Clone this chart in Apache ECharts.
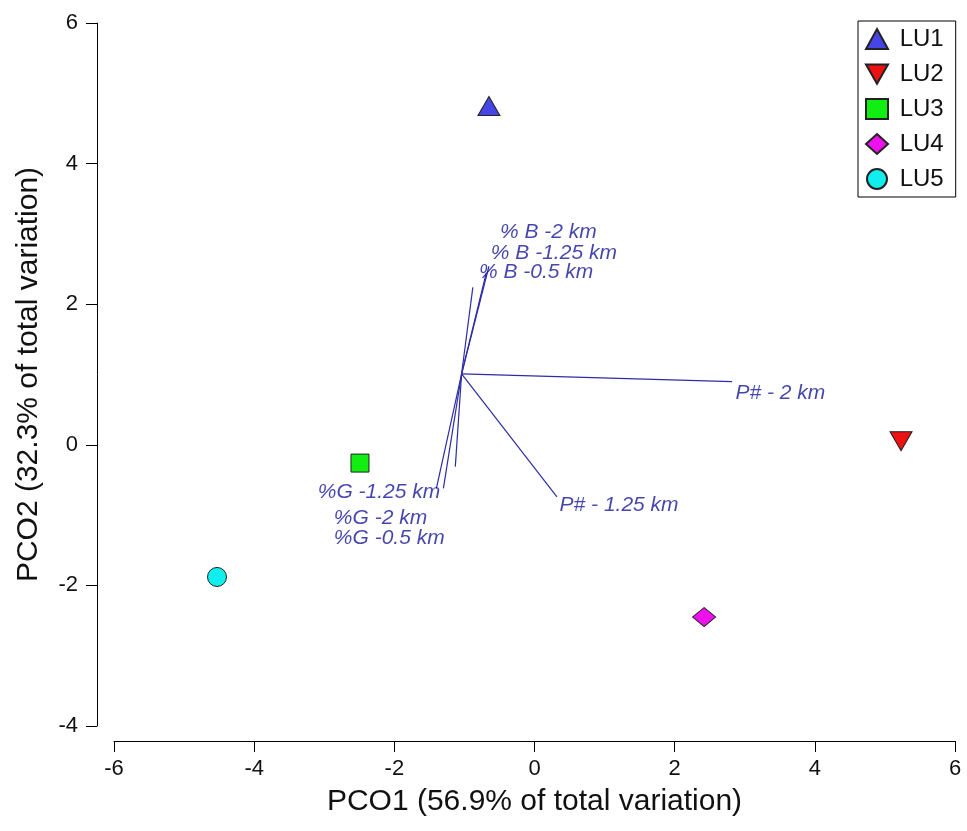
<!DOCTYPE html>
<html>
<head>
<meta charset="utf-8">
<script src="https://cdn.jsdelivr.net/npm/echarts@6/dist/echarts.min.js"></script>
<style>
html,body{margin:0;padding:0;background:#fff;}
#chart{width:967px;height:831px;}
</style>
</head>
<body>
<div id="chart"></div>
<script>
// ---- data ----
const groups = ['LU1', 'LU2', 'LU3', 'LU4', 'LU5'];
const pcoX = [-0.65, 5.23, -2.49, 2.42, -4.53];
const pcoY = [4.82, 0.05, -0.26, -2.45, -1.88];

const vectorOrigin = [-1.04, 1.01];
const vectorNames = ['P# - 2 km', 'P# - 1.25 km', '% B -2 km', '% B -1.25 km', '% B -0.5 km', '%G -1.25 km', '%G -2 km', '%G -0.5 km'];
const vectorEndX = [2.82, 0.32, -0.65, -0.69, -0.88, -1.40, -1.30, -1.13];
const vectorEndY = [0.90, -0.74, 2.54, 2.44, 2.24, -0.62, -0.62, -0.31];
const vectorLabelX = [2.86, 0.35, -0.50, -0.63, -0.80, -3.10, -2.87, -2.87];
const vectorLabelY = [0.74, -0.86, 3.02, 2.72, 2.46, -0.67, -1.05, -1.33];

const xAxisTitle = 'PCO1 (56.9% of total variation)';
const yAxisTitle = 'PCO2 (32.3% of total variation)';
const xRange = [-6, 6];
const yRange = [-4, 6];
const tickStep = 2;

// ---- styles ----
const FONT = '"Liberation Sans", Arial, sans-serif';
const groupColors = ['#4646e6', '#ee1111', '#11ee11', '#ee11ee', '#11eeee'];
const groupSymbols = ['triangle', 'path://M0,0L2,0L1,1.75Z', 'rect', 'diamond', 'circle'];
const groupSizes = [[22, 19], [22, 19], [18, 18], [23, 19], [19, 19]];

const chart = echarts.init(document.getElementById('chart'), null, {renderer: 'canvas'});

const groupSeries = groups.map((g, i) => ({
  name: g,
  type: 'scatter',
  symbol: groupSymbols[i],
  symbolSize: groupSizes[i],
  itemStyle: {color: groupColors[i], borderColor: '#222', borderWidth: 1, opacity: 1},
  data: [[pcoX[i], pcoY[i]]],
  z: 5
}));

const vectorLines = {
  type: 'lines',
  coordinateSystem: 'cartesian2d',
  silent: true,
  lineStyle: {color: '#2c2ca6', width: 1.2, opacity: 1},
  data: vectorNames.map((n, i) => ({coords: [vectorOrigin, [vectorEndX[i], vectorEndY[i]]]})),
  z: 3
};

const vectorLabels = {
  type: 'scatter',
  silent: true,
  symbolSize: 1,
  itemStyle: {color: 'rgba(0,0,0,0)'},
  label: {
    show: true,
    position: 'right',
    distance: 0,
    formatter: p => p.name,
    color: '#17179a',
    fontStyle: 'italic',
    fontFamily: FONT,
    fontSize: 21
  },
  data: vectorNames.map((n, i) => ({name: n, value: [vectorLabelX[i], vectorLabelY[i]]})),
  z: 4
};

chart.setOption({
  animation: false,
  backgroundColor: '#ffffff',
  textStyle: {fontFamily: FONT},
  grid: {left: 114, right: 12, top: 23, bottom: 105},
  legend: {
    data: groups,
    orient: 'vertical',
    left: 858,
    top: 21,
    itemWidth: 22,
    itemHeight: 20,
    itemGap: 11,
    padding: [6, 12, 6, 7],
    borderColor: '#000',
    borderWidth: 1,
    backgroundColor: '#fff',
    formatter: name => ' ' + name,
    textStyle: {fontFamily: FONT, fontSize: 24, color: '#111'},
    selectedMode: false
  },
  xAxis: {
    type: 'value',
    min: xRange[0], max: xRange[1], interval: tickStep,
    offset: 15,
    name: xAxisTitle,
    nameLocation: 'middle',
    nameGap: 46,
    nameTextStyle: {fontFamily: FONT, fontSize: 30, color: '#111'},
    axisLine: {show: true, onZero: false, lineStyle: {color: '#000', width: 1}},
    axisTick: {show: true, length: 11, lineStyle: {color: '#000'}},
    axisLabel: {margin: 17, fontFamily: FONT, fontSize: 22, color: '#111'},
    splitLine: {show: false}
  },
  yAxis: {
    type: 'value',
    min: yRange[0], max: yRange[1], interval: tickStep,
    offset: 17,
    name: yAxisTitle,
    nameLocation: 'middle',
    nameGap: 53,
    nameTextStyle: {fontFamily: FONT, fontSize: 30, color: '#111'},
    axisLine: {show: true, onZero: false, lineStyle: {color: '#000', width: 1}},
    axisTick: {show: true, length: 11, lineStyle: {color: '#000'}},
    axisLabel: {margin: 19, fontFamily: FONT, fontSize: 22, color: '#111'},
    splitLine: {show: false}
  },
  series: [vectorLines, vectorLabels, ...groupSeries]
});
</script>
</body>
</html>
